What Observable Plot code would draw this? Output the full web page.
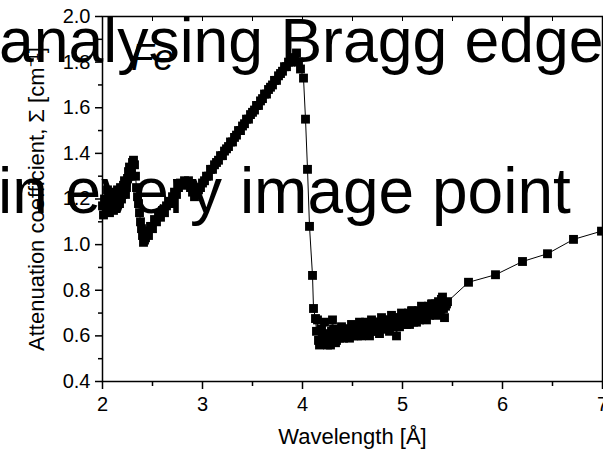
<!DOCTYPE html>
<html>
<head>
<meta charset="utf-8">
<script src="https://cdn.jsdelivr.net/npm/d3@7"></script>
<script src="https://cdn.jsdelivr.net/npm/@observablehq/plot@0.6"></script>
<style>
  html, body { margin: 0; padding: 0; background: white; }
  #wrap { position: relative; width: 603px; height: 451px; overflow: hidden; }
  #overlay { position: absolute; left: 0; top: 0; pointer-events: none; }
  text { font-family: 'Liberation Sans', Arial, sans-serif; }
</style>
</head>
<body>
<div id="wrap"></div>
<script>
// Wavelength [Å] and attenuation coefficient Σ [cm^-1]
const wavelength = [
  2.00,2.01,2.02,2.03,2.04,2.05,2.06,2.07,2.08,2.09,2.10,2.11,2.12,2.13,2.14,2.15,2.16,2.17,2.18,2.19,
  2.20,2.21,2.22,2.23,2.24,2.25,2.26,2.27,2.28,2.29,2.30,2.31,2.32,2.33,2.34,2.35,2.36,2.37,2.38,2.39,
  2.40,2.41,2.42,2.43,2.44,2.45,
  2.46,2.48,2.50,2.52,2.54,2.56,2.58,2.60,2.62,2.64,2.66,2.68,2.70,2.72,2.74,2.76,2.78,
  2.80,2.82,2.84,2.86,2.88,2.90,2.92,2.94,2.96,2.98,3.00,3.02,3.04,3.06,3.08,3.10,3.12,3.14,3.16,3.18,
  3.20,3.22,3.24,3.26,3.28,3.30,3.32,3.34,3.36,3.38,3.40,3.42,3.44,3.46,3.48,3.50,3.52,3.54,3.56,3.58,
  3.60,3.62,3.64,3.66,3.68,3.70,3.72,3.74,3.76,3.78,3.80,3.82,3.84,3.86,3.88,3.90,3.92,3.94,3.96,3.98,
  4.01,4.03,4.05,4.07,4.10,4.11,4.13,
  4.14,4.15,4.16,4.17,4.18,4.19,4.20,4.21,4.22,4.23,4.24,4.25,4.26,4.27,4.28,4.29,4.30,4.31,4.32,4.33,
  4.34,4.35,4.36,4.37,4.38,4.39,4.40,4.41,4.42,4.43,4.44,4.45,4.46,4.47,4.48,4.49,4.50,4.51,4.52,4.53,
  4.54,4.55,4.56,4.57,4.58,4.59,4.60,4.61,4.62,4.63,4.64,4.65,4.66,4.67,4.68,4.69,4.70,4.71,4.72,4.73,
  4.74,4.75,4.76,4.77,4.78,4.79,4.80,4.81,4.82,4.83,4.84,4.85,4.86,4.87,4.88,4.89,4.90,4.91,4.92,4.93,
  4.94,4.95,4.96,4.97,4.98,4.99,5.00,5.01,5.02,5.03,5.04,5.05,5.06,5.07,5.08,5.09,5.10,5.11,5.12,5.13,
  5.14,5.15,5.16,5.17,5.18,5.19,5.20,5.21,5.22,5.23,5.24,5.25,5.26,5.27,5.28,5.29,5.30,5.31,5.32,5.33,
  5.34,5.35,5.36,5.37,5.38,5.39,5.40,5.41,5.42,5.43,5.44,5.45,
  5.66,5.93,6.20,6.45,6.71,6.99
];
const attenuation = [
  1.17,1.13,1.20,1.19,1.15,1.24,1.22,1.14,1.16,1.21,1.19,1.15,1.23,1.20,1.17,1.24,1.21,1.18,1.25,1.20,
  1.22,1.26,1.28,1.22,1.25,1.29,1.32,1.34,1.30,1.33,1.36,1.37,1.35,1.30,1.25,1.21,1.18,1.14,1.10,1.07,
  1.04,1.01,1.02,1.03,1.05,1.06,
  1.04,1.08,1.07,1.11,1.10,1.13,1.12,1.15,1.14,1.17,1.19,1.18,1.21,1.23,1.22,1.25,1.27,
  1.26,1.28,1.27,1.28,1.25,1.23,1.21,1.22,1.24,1.25,1.27,1.28,1.30,1.30,1.33,1.33,1.35,1.36,1.37,1.39,
  1.39,1.41,1.42,1.43,1.45,1.45,1.47,1.48,1.50,1.50,1.52,1.53,1.55,1.55,1.57,1.58,1.59,1.61,1.61,1.63,
  1.64,1.66,1.66,1.68,1.69,1.70,1.72,1.72,1.74,1.75,1.76,1.78,1.78,1.80,1.80,1.82,1.81,1.84,1.80,1.77,
  1.73,1.55,1.33,1.08,0.865,0.72,0.676,
  0.62,0.67,0.58,0.56,0.57,0.63,0.60,0.57,0.66,0.60,0.58,0.56,0.61,0.59,0.56,0.62,0.67,0.63,0.60,0.57,
  0.58,0.61,0.62,0.59,0.60,0.64,0.63,0.59,0.61,0.63,0.60,0.62,0.63,0.59,0.61,0.65,0.64,0.60,0.62,0.64,
  0.61,0.60,0.64,0.66,0.62,0.60,0.65,0.63,0.63,0.66,0.61,0.62,0.65,0.60,0.63,0.67,0.66,0.62,0.64,0.66,
  0.62,0.64,0.66,0.61,0.64,0.68,0.67,0.63,0.65,0.66,0.63,0.65,0.67,0.62,0.65,0.69,0.68,0.64,0.66,0.67,
  0.60,0.65,0.68,0.64,0.66,0.70,0.69,0.65,0.67,0.69,0.65,0.67,0.70,0.65,0.67,0.71,0.71,0.66,0.68,0.70,
  0.66,0.68,0.71,0.67,0.69,0.73,0.72,0.68,0.70,0.72,0.67,0.70,0.73,0.69,0.70,0.74,0.74,0.70,0.72,0.74,
  0.69,0.72,0.75,0.71,0.72,0.76,0.77,0.72,0.68,0.73,0.74,0.75,
  0.835,0.868,0.926,0.960,1.023,1.059
];
const xMajorTicks = [2, 3, 4, 5, 6, 7];
const xMinorTicks = [2.5, 3.5, 4.5, 5.5, 6.5];
const yMajorTicks = [0.4, 0.6, 0.8, 1.0, 1.2, 1.4, 1.6, 1.8, 2.0];
const yMinorTicks = [0.5, 0.7, 0.9, 1.1, 1.3, 1.5, 1.7, 1.9];
const xLabel = "Wavelength [Å]";
const yLabel = "Attenuation coefficient, Σ [cm⁻¹]";
const sampleLabel = "Fe";
const titleLine1 = "analysing Bragg edge";
const titleLine2 = "in every image point";

const data = wavelength.map((w, i) => ({x: w, y: attenuation[i]}));
const font = "'Liberation Sans', Arial, sans-serif";

const chart = Plot.plot({
  width: 603,
  height: 451,
  marginLeft: 102,
  marginRight: 1,
  marginTop: 16,
  marginBottom: 70,
  x: {domain: [2, 7], label: null},
  y: {domain: [0.4, 2.0], label: null},
  style: {fontFamily: font, fontSize: "20px", color: "black", background: "white", overflow: "visible"},
  marks: [
    Plot.line(data, {x: "x", y: "y", stroke: "black", strokeWidth: 1}),
    Plot.dot(data, {x: "x", y: "y", symbol: "square", r: 5, fill: "black", stroke: "none"}),
    Plot.frame({stroke: "black", strokeWidth: 1.5}),
    Plot.axisX(xMajorTicks, {tickSize: 8, tickPadding: 7, fontSize: 20, strokeWidth: 1.5, tickFormat: d => String(d), label: null}),
    Plot.axisX(xMinorTicks, {tickSize: 5, strokeWidth: 1.5, tickFormat: () => "", label: null}),
    Plot.axisX(xMajorTicks.concat(xMinorTicks), {anchor: "top", tickSize: -4, strokeWidth: 1, tickFormat: () => "", label: null}),
    Plot.axisY(yMajorTicks, {tickSize: 7, tickPadding: 5, fontSize: 20, strokeWidth: 1.5, tickFormat: d3.format(".1f"), label: null}),
    Plot.axisY(yMinorTicks, {tickSize: 4, strokeWidth: 1.5, tickFormat: () => "", label: null}),
    Plot.text([xLabel], {frameAnchor: "bottom", dy: 55, fontSize: 22, lineAnchor: "middle", fill: "black"}),
    Plot.text([yLabel], {frameAnchor: "left", dx: -66, rotate: -90, fontSize: 22, textAnchor: "middle", lineAnchor: "middle", fill: "black"})
  ]
});

const wrap = document.getElementById("wrap");
wrap.appendChild(chart);

// Overlaid slide text
const ns = "http://www.w3.org/2000/svg";
const ov = document.createElementNS(ns, "svg");
ov.setAttribute("id", "overlay");
ov.setAttribute("width", 603);
ov.setAttribute("height", 451);
function addText(str, x, y, size, italic) {
  const t = document.createElementNS(ns, "text");
  t.setAttribute("x", x);
  t.setAttribute("y", y);
  t.setAttribute("font-size", size);
  t.setAttribute("fill", "black");
  t.setAttribute("font-family", font);
  if (italic) t.setAttribute("font-style", "italic");
  t.textContent = str;
  ov.appendChild(t);
}
addText(sampleLabel, 131, 70, 37, true);
addText(titleLine1, -1, 62, 62.5, false);
addText(titleLine2, -2, 213, 64, false);
wrap.appendChild(ov);
</script>
</body>
</html>
